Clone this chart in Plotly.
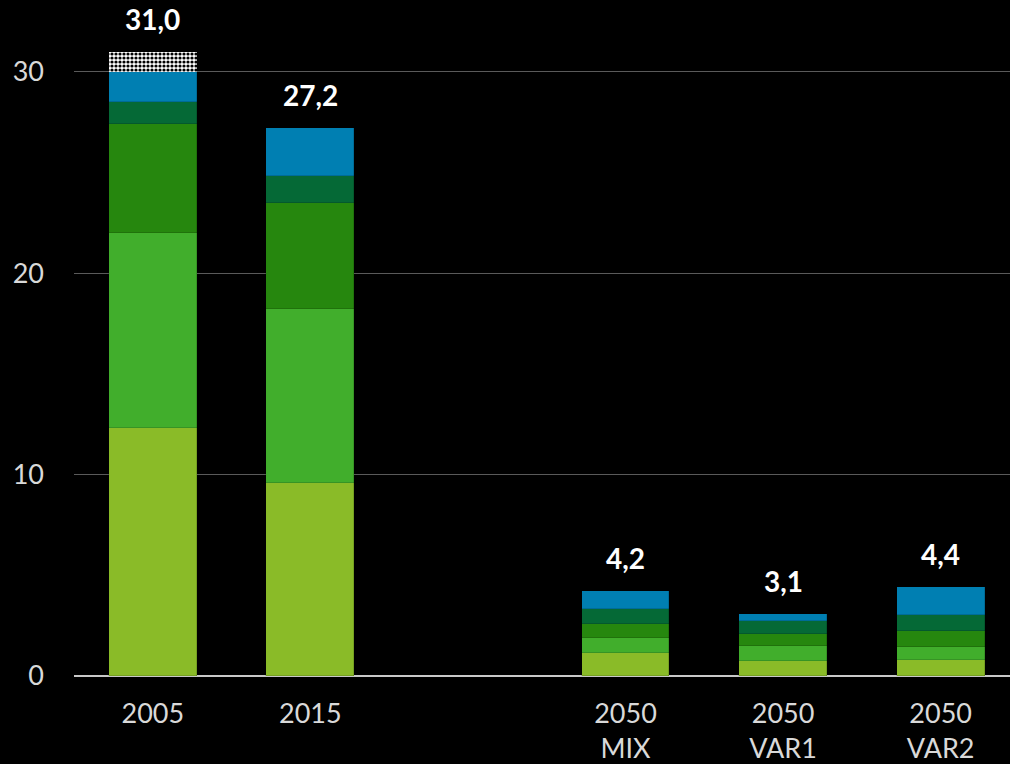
import plotly.graph_objects as go

categories = ["2005", "2015", "2050<br>MIX", "2050<br>VAR1", "2050<br>VAR2"]
positions = [0, 1, 3, 4, 5]

seg1 = [12.3, 9.6, 1.15, 0.76, 0.81]   # light green
seg2 = [9.7, 8.6, 0.75, 0.74, 0.64]    # green
seg3 = [5.4, 5.3, 0.67, 0.59, 0.79]    # dark green
seg4 = [1.1, 1.3, 0.78, 0.62, 0.78]    # teal green
seg5 = [1.5, 2.4, 0.85, 0.39, 1.38]    # blue
seg6 = [1.0, 0, 0, 0, 0]               # checkered (other)
totals = [31.0, 27.2, 4.2, 3.1, 4.4]
total_labels = ["31,0", "27,2", "4,2", "3,1", "4,4"]

y_ticks = [0, 10, 20, 30]

colors = ["#8ABB28", "#41AE2C", "#26870E", "#056936", "#007FB2"]
series = [seg1, seg2, seg3, seg4, seg5]

FONT = "Lato, 'Open Sans', sans-serif"
bar_w = 0.558

fig = go.Figure()
for vals, col in zip(series, colors):
    fig.add_trace(go.Bar(
        x=positions, y=vals, width=bar_w,
        marker=dict(color=col, line=dict(width=0.6, color="rgba(0,0,0,0.25)")),
        showlegend=False, hoverinfo="skip",
    ))
fig.add_trace(go.Bar(
    x=positions, y=seg6, width=bar_w,
    marker=dict(color="white", line=dict(width=0),
                pattern=dict(shape=".", fgcolor="black", bgcolor="white",
                             size=4, solidity=0.5, fillmode="replace")),
    showlegend=False, hoverinfo="skip",
))

for p, t, lab in zip(positions, totals, total_labels):
    fig.add_annotation(x=p, y=t, text="<b>%s</b>" % lab, showarrow=False,
                       yanchor="middle", yshift=33,
                       font=dict(family=FONT, size=28, color="white"))

fig.update_layout(
    barmode="stack",
    width=1010, height=764,
    margin=dict(l=74, r=0, t=0, b=86),
    paper_bgcolor="black", plot_bgcolor="black",
    bargap=0,
)
fig.update_xaxes(
    range=[-0.5, 5.44], tickmode="array", tickvals=positions, ticktext=categories,
    showgrid=False, zeroline=False, showline=False,
    tickfont=dict(family=FONT, size=27, color="#D9D9D9"),
    ticks="", ticklabelstandoff=19,
)
fig.update_yaxes(
    range=[0, 33.56], tickmode="array", tickvals=y_ticks,
    ticktext=[str(v) for v in y_ticks],
    showgrid=True, gridcolor="#5A5A5A", gridwidth=1,
    zeroline=True, zerolinecolor="#C8C8C8", zerolinewidth=2,
    showline=False,
    tickfont=dict(family=FONT, size=27, color="#D9D9D9"),
    ticks="", ticklabelstandoff=29,
)

fig.write_html("out.html", config={"displayModeBar": False},
               post_script="document.body.style.margin='0';document.body.style.background='black';")
